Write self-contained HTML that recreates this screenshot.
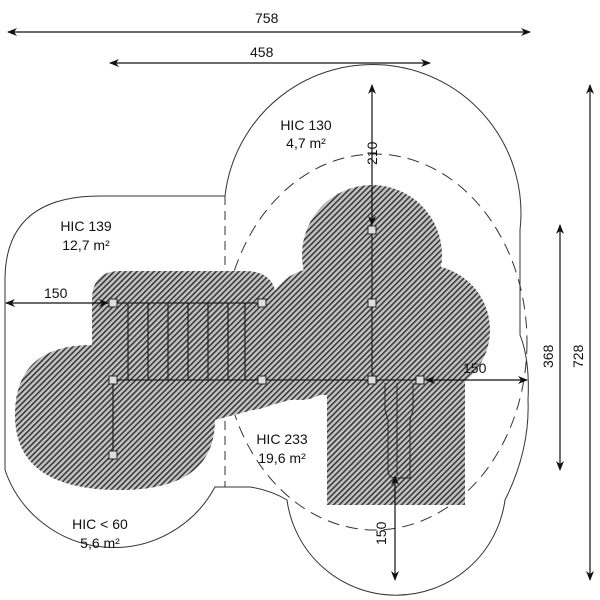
<!DOCTYPE html>
<html><head><meta charset="utf-8"><style>html,body{margin:0;padding:0;background:#fff}svg{display:block}</style></head>
<body>
<svg width="600" height="600" viewBox="0 0 600 600" xmlns="http://www.w3.org/2000/svg" font-family="Liberation Sans, sans-serif" font-size="14">
<defs>
<pattern id="h" width="4" height="4" patternUnits="userSpaceOnUse" patternTransform="rotate(45)">
<rect width="4" height="4" fill="#c4c4c4"/><rect width="1.6" height="4" fill="#3a3a3a"/></pattern>
<marker id="a" markerWidth="10" markerHeight="8" refX="9" refY="4" orient="auto-start-reverse" markerUnits="userSpaceOnUse"><path d="M0,0 L10,4 L0,8 L3,4z" fill="#111"/></marker>
</defs>
<!-- outer outline -->
<g fill="none" stroke="#333" stroke-width="1">
<path d="M5,470 L5,280 Q5,196 100,196 L225,196 A148,148 0 0 1 520,230 L520,335 Q530,360 528,400 Q530,450 505,500 A110,110 0 0 1 287,500 Q270,490 250,487 L215,487 A115,115 0 0 1 5,470"/>
<path d="M225,196 L225,487" stroke-dasharray="9,6"/>
<ellipse cx="375" cy="342" rx="152" ry="188" stroke-dasharray="12,7"/>
</g>
<!-- hatched area -->
<g fill="url(#h)" stroke="none">
<path d="M92,300 Q92,271 120,271 L245,271 Q270,271 275,290 L290,290 L290,400 L215,420 Q215,490 120,490 Q15,490 15,415 Q15,345 92,345 Z"/>
<circle cx="372" cy="255" r="70"/>
<circle cx="425" cy="330" r="65"/>
<circle cx="318" cy="320" r="52"/>
<circle cx="250" cy="365" r="45"/>
<circle cx="300" cy="360" r="40"/>
<rect x="327" y="375" width="138" height="130"/>
<rect x="300" y="280" width="120" height="110"/>
<rect x="200" y="300" width="130" height="95"/>
<rect x="93" y="290" width="200" height="110"/>
</g>
<!-- structure -->
<g stroke="#222" stroke-width="1.2" fill="none">
<line x1="113" y1="303" x2="262" y2="303"/><line x1="113" y1="380" x2="420" y2="380"/>
<line x1="128" y1="303" x2="128" y2="380"/><line x1="148" y1="303" x2="148" y2="380"/>
<line x1="168" y1="303" x2="168" y2="380"/><line x1="188" y1="303" x2="188" y2="380"/>
<line x1="208" y1="303" x2="208" y2="380"/><line x1="228" y1="303" x2="228" y2="380"/>
<line x1="245" y1="303" x2="245" y2="380"/>
<line x1="113" y1="380" x2="113" y2="455"/><line x1="372" y1="230" x2="372" y2="380"/>
<path d="M385,383 L385,410 L388,420 L388,470 Q388,478 396,478 L410,478 L410,420 L413,410 L413,383" stroke-width="0.9"/>
<line x1="397" y1="383" x2="397" y2="475" stroke-width="0.9"/>
</g>
<g fill="#ddd" stroke="#222" stroke-width="1">
<rect x="109" y="299" width="8" height="8"/><rect x="258" y="299" width="8" height="8"/>
<rect x="109" y="376" width="8" height="8"/><rect x="258" y="376" width="8" height="8"/>
<rect x="368" y="226" width="8" height="8"/><rect x="368" y="299" width="8" height="8"/>
<rect x="368" y="376" width="8" height="8"/><rect x="416" y="376" width="8" height="8"/>
<rect x="109" y="451" width="8" height="8"/>
</g>
<!-- dimensions -->
<g stroke="#111" stroke-width="1.2" marker-start="url(#a)" marker-end="url(#a)">
<line x1="8" y1="32" x2="530" y2="32"/>
<line x1="110" y1="63" x2="430" y2="63"/>
<line x1="372" y1="85" x2="372" y2="225"/>
<line x1="560" y1="225" x2="560" y2="470"/>
<line x1="590" y1="85" x2="590" y2="580"/>
<line x1="6" y1="303" x2="108" y2="303"/>
<line x1="426" y1="380" x2="527" y2="380"/>
<line x1="395" y1="476" x2="395" y2="580"/>
</g>
<g fill="#111">
<text x="255" y="23">758</text>
<text x="250" y="57">458</text>
<text x="44" y="298">150</text>
<text x="463" y="373">150</text>
<text transform="translate(377,165) rotate(-90)">210</text>
<text transform="translate(553,368) rotate(-90)">368</text>
<text transform="translate(583,368) rotate(-90)">728</text>
<text transform="translate(386,545) rotate(-90)">150</text>
<g text-anchor="middle">
<text x="306" y="130">HIC 130</text><text x="306" y="148">4,7 m²</text>
<text x="86" y="231">HIC 139</text><text x="86" y="250">12,7 m²</text>
<text x="282" y="444">HIC 233</text><text x="282" y="463">19,6 m²</text>
<text x="100" y="529">HIC &lt; 60</text><text x="100" y="548">5,6 m²</text>
</g></g>
</svg>
</body></html>
